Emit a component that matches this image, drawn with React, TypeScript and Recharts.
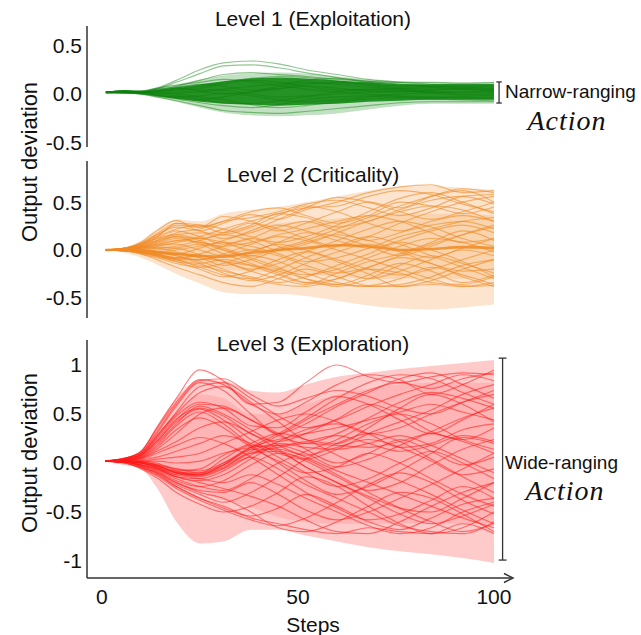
import React from 'react';
import { ComposedChart, Line, Area, XAxis, YAxis, ReferenceLine } from 'recharts';

// ---------- shared x data ----------
const STEPS = [1, 6, 10, 14, 19, 25, 31, 38, 45, 52, 60, 68, 76, 84, 92, 100];
const X_TICKS = [0, 50, 100];
const X_TICK_LABELS = ['0', '50', '100'];

// ---------- Level 1 (green) ----------
const G_ENV_LO = [0.01, 0.0, -0.01, -0.04, -0.08, -0.14, -0.19, -0.22, -0.23, -0.22, -0.2, -0.16, -0.12, -0.1, -0.1, -0.1];
const G_ENV_HI = [0.02, 0.04, 0.03, 0.06, 0.1, 0.15, 0.19, 0.21, 0.22, 0.21, 0.18, 0.15, 0.13, 0.12, 0.12, 0.12];
const G_CORE_LO = [0.015, 0.005, 0.0, -0.02, -0.05, -0.08, -0.1, -0.11, -0.12, -0.11, -0.1, -0.08, -0.07, -0.06, -0.06, -0.06];
const G_CORE_HI = [0.02, 0.035, 0.025, 0.04, 0.07, 0.1, 0.13, 0.16, 0.17, 0.16, 0.14, 0.12, 0.1, 0.1, 0.1, 0.1];
const G_LINES = [
  [0.02, 0.03, 0.03, 0.06, 0.14, 0.25, 0.32, 0.34, 0.31, 0.25, 0.2, 0.15, 0.12, 0.1, 0.09, 0.1],
  [0.02, 0.03, 0.02, 0.05, 0.12, 0.21, 0.29, 0.3, 0.27, 0.22, 0.17, 0.12, 0.1, 0.08, 0.07, 0.06],
  [0.02, 0.02, 0.02, 0.04, 0.08, 0.14, 0.2, 0.22, 0.2, 0.18, 0.15, 0.13, 0.12, 0.12, 0.11, 0.12],
  [0.01, 0.01, 0.0, -0.03, -0.07, -0.12, -0.17, -0.19, -0.2, -0.18, -0.15, -0.12, -0.09, -0.08, -0.08, -0.08],
  [0.02, 0.03, 0.02, 0.03, 0.05, 0.08, 0.12, 0.16, 0.18, 0.17, 0.13, 0.09, 0.06, 0.05, 0.06, 0.05],
  [0.02, 0.02, 0.01, 0.0, -0.02, -0.05, -0.09, -0.1, -0.07, -0.03, 0.0, 0.02, 0.03, 0.02, 0.0, -0.02],
  [0.02, 0.03, 0.03, 0.05, 0.07, 0.1, 0.08, 0.04, 0.06, 0.1, 0.12, 0.1, 0.08, 0.09, 0.1, 0.09],
  [0.01, 0.02, 0.01, 0.01, 0.0, -0.03, -0.06, -0.11, -0.14, -0.12, -0.08, -0.05, -0.04, -0.05, -0.06, -0.07],
  [0.02, 0.03, 0.02, 0.04, 0.06, 0.03, 0.0, 0.02, 0.05, 0.08, 0.06, 0.03, 0.02, 0.04, 0.05, 0.03],
  [0.02, 0.02, 0.01, -0.01, -0.04, -0.06, -0.03, 0.02, 0.08, 0.12, 0.1, 0.07, 0.05, 0.03, 0.02, 0.01],
  [0.02, 0.03, 0.03, 0.06, 0.09, 0.12, 0.15, 0.13, 0.09, 0.05, 0.02, 0.0, -0.02, -0.03, -0.04, -0.05],
  [0.01, 0.01, 0.0, -0.02, -0.03, -0.02, 0.01, -0.02, -0.06, -0.08, -0.06, -0.03, 0.0, 0.01, 0.02, 0.03],
  [0.02, 0.03, 0.02, 0.03, 0.04, 0.06, 0.1, 0.14, 0.12, 0.08, 0.04, 0.04, 0.06, 0.07, 0.08, 0.08],
  [0.01, 0.01, 0.0, -0.02, -0.05, -0.09, -0.12, -0.14, -0.11, -0.06, -0.03, -0.02, -0.03, -0.04, -0.03, -0.04],
  [0.02, 0.02, 0.02, 0.02, 0.02, 0.04, 0.05, 0.08, 0.1, 0.14, 0.16, 0.13, 0.1, 0.07, 0.05, 0.04],
  [0.02, 0.03, 0.02, 0.01, 0.01, 0.02, 0.04, 0.0, -0.03, -0.02, 0.02, 0.05, 0.04, 0.01, -0.01, 0.0],
];
const P1_TICKS = [-0.5, 0, 0.5];
const P1_TICK_LABELS = ['-0.5', '0.0', '0.5'];

// ---------- Level 2 (orange) ----------
const O_ENV_LO = [0, -0.03, -0.08, -0.15, -0.25, -0.35, -0.44, -0.46, -0.46, -0.48, -0.53, -0.58, -0.61, -0.62, -0.6, -0.57];
const O_ENV_HI = [0, 0.03, 0.1, 0.22, 0.32, 0.3, 0.38, 0.42, 0.45, 0.5, 0.56, 0.62, 0.66, 0.67, 0.65, 0.63];
const O_CORE_LO = [0, -0.02, -0.04, -0.08, -0.12, -0.16, -0.2, -0.22, -0.24, -0.26, -0.28, -0.3, -0.3, -0.3, -0.3, -0.3];
const O_CORE_HI = [0, 0.02, 0.06, 0.12, 0.18, 0.18, 0.22, 0.25, 0.28, 0.3, 0.33, 0.36, 0.38, 0.38, 0.38, 0.36];
const O_CENTER = [0, 0.005, 0.0, -0.02, -0.04, -0.06, -0.07, -0.03, 0.0, 0.02, 0.05, 0.04, 0.0, 0.01, 0.03, 0.02];
const O_LINES = [
  [0, 0.02, 0.08, 0.2, 0.31, 0.2, 0.28, 0.37, 0.32, 0.42, 0.5, 0.6, 0.66, 0.68, 0.6, 0.62],
  [0, 0.02, 0.06, 0.15, 0.26, 0.24, 0.35, 0.3, 0.2, 0.28, 0.4, 0.5, 0.44, 0.56, 0.64, 0.6],
  [0, 0.01, 0.04, 0.1, 0.18, 0.22, 0.3, 0.4, 0.44, 0.36, 0.28, 0.36, 0.5, 0.46, 0.38, 0.45],
  [0, -0.01, -0.04, -0.1, -0.18, -0.26, -0.34, -0.38, -0.3, -0.2, -0.28, -0.37, -0.3, -0.18, -0.26, -0.36],
  [0, 0.0, -0.02, -0.06, -0.12, -0.2, -0.28, -0.22, -0.1, -0.02, -0.12, -0.25, -0.38, -0.32, -0.2, -0.1],
  [0, 0.01, 0.03, 0.06, 0.1, 0.08, 0.02, -0.08, -0.18, -0.3, -0.38, -0.3, -0.16, -0.06, -0.14, -0.24],
  [0, 0.02, 0.05, 0.12, 0.2, 0.14, 0.06, 0.12, 0.24, 0.3, 0.2, 0.1, 0.18, 0.3, 0.36, 0.3],
  [0, -0.01, -0.03, -0.05, -0.08, -0.1, -0.04, 0.06, 0.14, 0.1, 0.0, -0.1, -0.2, -0.3, -0.38, -0.37],
  [0, 0.01, 0.02, 0.03, 0.02, -0.05, -0.12, -0.2, -0.14, -0.02, 0.1, 0.22, 0.3, 0.24, 0.12, 0.04],
  [0, 0.0, -0.01, -0.03, -0.06, -0.12, -0.2, -0.3, -0.36, -0.38, -0.3, -0.18, -0.08, -0.14, -0.28, -0.38],
  [0, 0.02, 0.07, 0.16, 0.24, 0.2, 0.12, 0.2, 0.32, 0.44, 0.55, 0.5, 0.4, 0.32, 0.4, 0.5],
  [0, 0.01, 0.02, 0.02, -0.02, -0.08, -0.16, -0.1, 0.0, 0.08, 0.16, 0.1, 0.0, -0.08, 0.02, 0.12],
  [0, 0.0, -0.02, -0.04, -0.04, 0.02, 0.1, 0.18, 0.26, 0.2, 0.1, 0.02, 0.1, 0.2, 0.26, 0.18],
  [0, 0.01, 0.03, 0.08, 0.14, 0.1, 0.0, -0.1, -0.2, -0.26, -0.2, -0.08, 0.04, 0.12, 0.08, -0.02],
  [0, -0.01, -0.04, -0.08, -0.14, -0.18, -0.14, -0.06, -0.12, -0.24, -0.34, -0.38, -0.36, -0.28, -0.16, -0.1],
  [0, 0.02, 0.06, 0.14, 0.22, 0.26, 0.22, 0.14, 0.08, 0.14, 0.26, 0.4, 0.54, 0.6, 0.5, 0.38],
  [0, 0.0, 0.0, -0.02, -0.06, -0.14, -0.24, -0.32, -0.26, -0.14, -0.02, 0.06, -0.02, -0.14, -0.22, -0.2],
  [0, 0.01, 0.04, 0.1, 0.16, 0.18, 0.16, 0.24, 0.36, 0.46, 0.4, 0.28, 0.2, 0.26, 0.3, 0.22],
  [0, 0.0, -0.02, -0.06, -0.1, -0.1, -0.06, 0.0, -0.06, -0.16, -0.24, -0.18, -0.06, 0.06, 0.16, 0.24],
  [0, 0.01, 0.03, 0.05, 0.06, 0.0, -0.06, -0.02, 0.06, 0.0, -0.1, -0.2, -0.26, -0.2, -0.1, 0.0],
  [0, 0.02, 0.06, 0.12, 0.16, 0.12, 0.18, 0.28, 0.22, 0.12, 0.04, 0.14, 0.28, 0.4, 0.5, 0.56],
  [0, -0.01, -0.03, -0.07, -0.12, -0.16, -0.22, -0.28, -0.34, -0.28, -0.16, -0.04, 0.08, 0.0, -0.12, -0.28],
  [0, 0.01, 0.02, 0.04, 0.08, 0.14, 0.22, 0.3, 0.38, 0.44, 0.46, 0.56, 0.62, 0.58, 0.48, 0.4],
  [0, 0.0, -0.01, -0.02, -0.04, -0.08, -0.12, -0.16, -0.22, -0.3, -0.36, -0.38, -0.38, -0.36, -0.38, -0.34],
  [0, 0.01, 0.03, 0.07, 0.12, 0.08, 0.04, 0.08, 0.16, 0.22, 0.3, 0.36, 0.3, 0.18, 0.08, 0.12],
  [0, 0.0, -0.01, -0.02, 0.0, 0.04, 0.08, 0.04, -0.04, -0.12, -0.08, 0.02, 0.14, 0.22, 0.3, 0.34],
  [0, 0.01, 0.05, 0.13, 0.28, 0.26, 0.18, 0.26, 0.38, 0.34, 0.24, 0.3, 0.42, 0.52, 0.56, 0.48],
  [0, -0.01, -0.02, -0.04, -0.08, -0.04, 0.04, 0.12, 0.04, -0.08, -0.2, -0.3, -0.22, -0.1, 0.0, -0.06],
  [0, 0.0, 0.01, 0.02, 0.04, 0.1, 0.16, 0.1, 0.0, 0.06, 0.18, 0.3, 0.4, 0.46, 0.42, 0.3],
  [0, -0.01, -0.03, -0.06, -0.1, -0.18, -0.26, -0.3, -0.2, -0.08, 0.04, 0.14, 0.06, -0.06, -0.18, -0.3],
  [0, 0.01, 0.04, 0.09, 0.14, 0.06, -0.04, -0.14, -0.24, -0.34, -0.36, -0.26, -0.14, -0.22, -0.34, -0.26],
  [0, 0.02, 0.07, 0.17, 0.28, 0.24, 0.3, 0.34, 0.4, 0.48, 0.52, 0.44, 0.36, 0.44, 0.56, 0.58],
  [0, 0.0, -0.01, -0.04, -0.1, -0.14, -0.1, -0.16, -0.26, -0.34, -0.3, -0.2, -0.24, -0.34, -0.36, -0.28],
  [0, 0.01, 0.02, 0.05, 0.1, 0.12, 0.08, 0.0, 0.08, 0.18, 0.14, 0.04, -0.06, 0.04, 0.16, 0.26],
  [0, 0.0, 0.0, 0.0, 0.02, 0.06, 0.0, -0.06, 0.02, 0.1, 0.22, 0.34, 0.46, 0.56, 0.62, 0.5],
  [0, -0.01, -0.02, -0.05, -0.09, -0.06, -0.12, -0.22, -0.3, -0.36, -0.24, -0.12, -0.04, 0.08, 0.2, 0.1],
];
const P2_TICKS = [-0.5, 0, 0.5];
const P2_TICK_LABELS = ['-0.5', '0.0', '0.5'];

// ---------- Level 3 (red) ----------
const R_ENV_LO = [0.01, -0.02, -0.06, -0.25, -0.6, -0.82, -0.8, -0.68, -0.68, -0.74, -0.8, -0.86, -0.9, -0.93, -0.97, -1.02];
const R_ENV_HI = [0.03, 0.06, 0.12, 0.38, 0.66, 0.85, 0.84, 0.74, 0.72, 0.8, 0.88, 0.92, 0.96, 0.99, 1.02, 1.05];
const R_CORE_LO = [0.01, -0.02, -0.05, -0.1, -0.2, -0.3, -0.38, -0.45, -0.55, -0.6, -0.62, -0.62, -0.62, -0.62, -0.62, -0.62];
const R_CORE_HI = [0.03, 0.05, 0.1, 0.28, 0.52, 0.7, 0.66, 0.5, 0.5, 0.6, 0.7, 0.76, 0.8, 0.82, 0.82, 0.82];
const R_LINES = [
  [0.02, 0.05, 0.12, 0.35, 0.62, 0.85, 0.8, 0.6, 0.5, 0.62, 0.8, 0.9, 0.85, 0.7, 0.8, 0.95],
  [0.02, 0.04, 0.1, 0.3, 0.58, 0.82, 0.74, 0.5, 0.3, 0.4, 0.58, 0.72, 0.86, 0.92, 0.8, 0.66],
  [0.02, 0.05, 0.1, 0.28, 0.5, 0.72, 0.78, 0.62, 0.42, 0.24, 0.2, 0.36, 0.56, 0.7, 0.6, 0.42],
  [0.02, 0.04, 0.08, 0.24, 0.45, 0.56, 0.48, 0.3, 0.22, 0.3, 0.45, 0.6, 0.5, 0.32, 0.24, 0.36],
  [0.02, 0.04, 0.08, 0.22, 0.42, 0.55, 0.44, 0.24, 0.1, 0.04, 0.14, 0.3, 0.42, 0.54, 0.7, 0.8],
  [0.02, 0.03, 0.06, 0.18, 0.38, 0.52, 0.4, 0.18, 0.0, -0.18, -0.32, -0.24, -0.08, 0.1, 0.26, 0.2],
  [0.02, 0.03, 0.05, 0.14, 0.3, 0.5, 0.56, 0.44, 0.28, 0.2, 0.3, 0.46, 0.62, 0.72, 0.66, 0.56],
  [0.02, 0.03, 0.05, 0.12, 0.22, 0.36, 0.42, 0.3, 0.14, -0.04, -0.2, -0.34, -0.46, -0.5, -0.36, -0.2],
  [0.02, 0.02, 0.02, 0.0, -0.08, -0.12, -0.04, 0.1, 0.16, 0.2, 0.18, 0.16, 0.22, 0.3, 0.22, 0.1],
  [0.02, 0.02, 0.01, -0.02, -0.1, -0.13, -0.05, 0.12, 0.2, 0.16, 0.14, 0.2, 0.28, 0.18, 0.04, -0.1],
  [0.02, 0.02, 0.0, -0.04, -0.12, -0.12, -0.02, 0.14, 0.14, 0.08, 0.16, 0.24, 0.16, 0.02, -0.12, -0.06],
  [0.02, 0.01, 0.0, -0.05, -0.14, -0.16, -0.08, 0.08, 0.22, 0.34, 0.4, 0.3, 0.16, 0.2, 0.34, 0.4],
  [0.02, 0.01, -0.02, -0.08, -0.18, -0.24, -0.18, -0.02, 0.1, 0.04, -0.12, -0.3, -0.46, -0.6, -0.7, -0.62],
  [0.02, 0.01, -0.03, -0.1, -0.22, -0.32, -0.4, -0.3, -0.14, 0.04, 0.2, 0.3, 0.22, 0.04, -0.14, -0.3],
  [0.02, 0.0, -0.05, -0.13, -0.26, -0.38, -0.48, -0.58, -0.64, -0.56, -0.4, -0.22, -0.1, -0.2, -0.38, -0.52],
  [0.02, 0.0, -0.06, -0.15, -0.3, -0.42, -0.5, -0.44, -0.3, -0.14, -0.24, -0.44, -0.62, -0.72, -0.66, -0.5],
  [0.02, 0.01, -0.04, -0.1, -0.2, -0.3, -0.36, -0.5, -0.66, -0.7, -0.6, -0.44, -0.3, -0.36, -0.52, -0.7],
  [0.02, 0.01, -0.02, -0.06, -0.14, -0.2, -0.26, -0.34, -0.44, -0.58, -0.7, -0.72, -0.6, -0.44, -0.3, -0.2],
  [0.02, 0.02, 0.01, -0.02, -0.06, -0.08, 0.0, 0.14, 0.28, 0.44, 0.6, 0.74, 0.82, 0.76, 0.86, 0.92],
  [0.02, 0.02, 0.0, -0.03, -0.1, -0.12, -0.02, 0.16, 0.3, 0.46, 0.66, 0.82, 0.9, 0.86, 0.72, 0.6],
  [0.02, 0.03, 0.06, 0.16, 0.34, 0.46, 0.36, 0.16, 0.02, -0.1, -0.04, 0.1, 0.0, -0.16, -0.32, -0.44],
  [0.02, 0.02, 0.01, -0.01, -0.06, -0.1, -0.02, 0.1, 0.12, 0.02, -0.14, -0.28, -0.2, -0.02, 0.14, 0.24],
  [0.02, 0.02, 0.03, 0.06, 0.12, 0.2, 0.28, 0.2, 0.06, -0.1, -0.24, -0.16, 0.0, 0.12, 0.0, -0.16],
  [0.02, 0.01, -0.02, -0.07, -0.16, -0.24, -0.28, -0.16, 0.0, 0.12, 0.24, 0.4, 0.5, 0.4, 0.24, 0.14],
  [0.02, 0.02, 0.0, -0.04, -0.1, -0.1, 0.04, 0.18, 0.12, -0.04, -0.2, -0.36, -0.52, -0.62, -0.54, -0.42],
  [0.02, 0.04, 0.09, 0.26, 0.48, 0.62, 0.56, 0.38, 0.36, 0.52, 0.68, 0.6, 0.44, 0.3, 0.44, 0.6],
  [0.02, 0.01, -0.03, -0.09, -0.2, -0.28, -0.3, -0.2, -0.32, -0.48, -0.58, -0.5, -0.36, -0.22, -0.06, 0.1],
  [0.02, 0.02, 0.0, -0.03, -0.08, -0.06, 0.08, 0.2, 0.3, 0.24, 0.08, -0.06, -0.18, -0.32, -0.48, -0.62],
  [0.02, 0.05, 0.11, 0.32, 0.6, 0.84, 0.86, 0.7, 0.58, 0.66, 0.74, 0.68, 0.56, 0.5, 0.62, 0.74],
  [0.02, 0.0, -0.05, -0.12, -0.24, -0.36, -0.44, -0.56, -0.62, -0.68, -0.72, -0.66, -0.7, -0.72, -0.62, -0.72],
  [0.02, 0.05, 0.12, 0.36, 0.66, 0.95, 0.84, 0.6, 0.62, 0.82, 1.0, 0.88, 0.82, 0.88, 0.92, 0.9],
  [0.02, 0.02, 0.02, 0.02, 0.0, 0.02, 0.1, 0.16, 0.18, 0.22, 0.28, 0.2, 0.12, 0.18, 0.28, 0.22],
  [0.02, 0.04, 0.09, 0.27, 0.52, 0.78, 0.82, 0.66, 0.48, 0.36, 0.44, 0.58, 0.7, 0.8, 0.9, 0.84],
  [0.02, 0.03, 0.07, 0.2, 0.4, 0.58, 0.5, 0.34, 0.18, 0.06, -0.08, -0.2, -0.32, -0.44, -0.56, -0.66],
  [0.02, 0.02, 0.01, -0.02, -0.09, -0.11, 0.0, 0.16, 0.24, 0.3, 0.36, 0.44, 0.52, 0.6, 0.52, 0.44],
  [0.02, 0.01, -0.02, -0.06, -0.14, -0.18, -0.12, 0.04, 0.18, 0.1, -0.04, 0.04, 0.18, 0.32, 0.46, 0.56],
  [0.02, 0.01, -0.04, -0.11, -0.24, -0.36, -0.46, -0.54, -0.46, -0.32, -0.44, -0.6, -0.68, -0.56, -0.42, -0.36],
  [0.02, 0.02, 0.0, -0.03, -0.1, -0.14, -0.06, 0.06, -0.06, -0.22, -0.36, -0.5, -0.64, -0.7, -0.72, -0.6],
  [0.02, 0.04, 0.08, 0.22, 0.44, 0.6, 0.58, 0.44, 0.3, 0.14, 0.0, 0.1, 0.24, 0.12, -0.02, 0.06],
  [0.02, 0.03, 0.04, 0.1, 0.18, 0.26, 0.2, 0.06, -0.12, -0.3, -0.46, -0.58, -0.52, -0.38, -0.24, -0.36],
  [0.02, 0.02, 0.02, 0.04, 0.06, 0.1, 0.2, 0.32, 0.44, 0.5, 0.42, 0.3, 0.36, 0.5, 0.62, 0.7],
  [0.02, 0.01, -0.01, -0.05, -0.12, -0.16, -0.2, -0.12, -0.22, -0.36, -0.5, -0.64, -0.72, -0.66, -0.5, -0.4],
];
const P3_TICKS = [-1, -0.5, 0, 0.5, 1];
const P3_TICK_LABELS = ['-1', '-0.5', '0.0', '0.5', '1'];

const FONT = '"Liberation Sans", Arial, Helvetica, sans-serif';
const SERIF = '"Liberation Serif", "Times New Roman", serif';
const AXIS_COLOR = '#333';
const X_DOMAIN: [number, number] = [-3.8, 104.6];

function buildRows(envLo: number[], envHi: number[], coreLo: number[], coreHi: number[], lines: number[][], center?: number[]) {
  return STEPS.map((s, i) => {
    const r: any = { step: s, env: [envLo[i], envHi[i]], core: [coreLo[i], coreHi[i]] };
    lines.forEach((l, j) => { r['l' + j] = l[i]; });
    if (center) r.center = center[i];
    return r;
  });
}

const G_DATA = buildRows(G_ENV_LO, G_ENV_HI, G_CORE_LO, G_CORE_HI, G_LINES);
const O_DATA = buildRows(O_ENV_LO, O_ENV_HI, O_CORE_LO, O_CORE_HI, O_LINES, O_CENTER);
const R_DATA = buildRows(R_ENV_LO, R_ENV_HI, R_CORE_LO, R_CORE_HI, R_LINES);

type PanelProps = {
  data: any[];
  nLines: number;
  lineColor: string;
  lineOpacity: number;
  coreColor: string;
  coreOpacity: number;
  envColor: string;
  domain: [number, number];
  ticks: number[];
  tickLabels: string[];
  top: number;
  bottom: number;
  showXTicks: boolean;
  bracket?: { x: number; y1: number; y2: number; cap: number };
  hasCenter?: boolean;
};

function Panel(p: PanelProps) {
  const W = 641;
  const H = 635;
  const xAxisH = p.showXTicks ? 30 : 0;
  const margin = { top: p.top, right: W - 512, left: 0, bottom: H - p.bottom - xAxisH };
  const lines = [];
  for (let i = 0; i < p.nLines; i++) {
    lines.push(
      <Line key={'l' + i} dataKey={'l' + i} type="monotone" stroke={p.lineColor} strokeOpacity={p.lineOpacity}
        strokeWidth={1.15} dot={false} activeDot={false} isAnimationActive={false} />
    );
  }
  return (
    <div style={{ position: 'absolute', left: 0, top: 0 }}>
      <ComposedChart width={W} height={H} data={p.data} margin={margin}>
        <XAxis dataKey="step" type="number" domain={X_DOMAIN} allowDataOverflow
          ticks={p.showXTicks ? X_TICKS : []} tick={p.showXTicks ? { fontSize: 21, fill: '#111', fontFamily: FONT } : false}
          tickFormatter={(v: number) => X_TICK_LABELS[X_TICKS.indexOf(v)] ?? String(v)}
          tickLine={false} tickSize={0} tickMargin={11} height={xAxisH}
          axisLine={{ stroke: AXIS_COLOR, strokeWidth: 1.5 }} />
        <YAxis type="number" domain={p.domain} allowDataOverflow ticks={p.ticks} width={87}
          tick={{ fontSize: 21, fill: '#111', fontFamily: FONT }}
          tickFormatter={(v: number) => p.tickLabels[p.ticks.indexOf(v)] ?? String(v)}
          tickLine={false} tickSize={0} tickMargin={5}
          axisLine={{ stroke: AXIS_COLOR, strokeWidth: 1.5 }} />
        <Area dataKey="env" type="monotone" stroke="none" fill={p.envColor} fillOpacity={1} isAnimationActive={false} activeDot={false} />
        <Area dataKey="core" type="monotone" stroke="none" fill={p.coreColor} fillOpacity={p.coreOpacity} isAnimationActive={false} activeDot={false} />
        {lines}
        {p.hasCenter ? (
          <Line dataKey="center" type="monotone" stroke={p.lineColor} strokeOpacity={0.85} strokeWidth={2.6}
            dot={false} activeDot={false} isAnimationActive={false} />
        ) : null}
        {p.bracket ? (
          <ReferenceLine segment={[{ x: p.bracket.x, y: p.bracket.y1 }, { x: p.bracket.x, y: p.bracket.y2 }]} stroke="#333" strokeWidth={1.3} />
        ) : null}
        {p.bracket ? (
          <ReferenceLine segment={[{ x: p.bracket.x - p.bracket.cap, y: p.bracket.y1 }, { x: p.bracket.x + p.bracket.cap, y: p.bracket.y1 }]} stroke="#333" strokeWidth={1.3} />
        ) : null}
        {p.bracket ? (
          <ReferenceLine segment={[{ x: p.bracket.x - p.bracket.cap, y: p.bracket.y2 }, { x: p.bracket.x + p.bracket.cap, y: p.bracket.y2 }]} stroke="#333" strokeWidth={1.3} />
        ) : null}
      </ComposedChart>
    </div>
  );
}

export default function App() {
  return (
    <div style={{ position: 'absolute', left: 0, top: 0, width: 641, height: 635, background: '#fff', overflow: 'hidden' }}>
      <Panel data={G_DATA} nLines={G_LINES.length} lineColor="#0E800E" lineOpacity={0.45} coreColor="#148A14" coreOpacity={0.9}
        envColor="#C2E0C2" domain={[-0.546, 0.7]} ticks={P1_TICKS} tickLabels={P1_TICK_LABELS} top={26} bottom={147}
        showXTicks={false} bracket={{ x: 101.3, y1: 0.124, y2: -0.093, cap: 0.7 }} />
      <Panel data={O_DATA} nLines={O_LINES.length} lineColor="#F08A24" lineOpacity={0.6} coreColor="#F39A3C" coreOpacity={0.22}
        envColor="#FCE4CF" domain={[-0.71, 0.93]} ticks={P2_TICKS} tickLabels={P2_TICK_LABELS} top={161} bottom={318}
        showXTicks={false} hasCenter />
      <Panel data={R_DATA} nLines={R_LINES.length} lineColor="#FF1A1A" lineOpacity={0.55} coreColor="#FF3A3A" coreOpacity={0.14}
        envColor="#FFCACA" domain={[-1.173, 1.255]} ticks={P3_TICKS} tickLabels={P3_TICK_LABELS} top={340} bottom={578}
        showXTicks={true} bracket={{ x: 102.2, y1: 1.07, y2: -0.99, cap: 1.0 }} />
      <svg width={641} height={635} style={{ position: 'absolute', left: 0, top: 0, pointerEvents: 'none' }}>
        <g fontFamily={FONT} fill="#111">
          <text x={313} y={26} fontSize={21} textAnchor="middle">Level 1 (Exploitation)</text>
          <text x={313} y={182} fontSize={21} textAnchor="middle">Level 2 (Criticality)</text>
          <text x={313} y={351} fontSize={21} textAnchor="middle">Level 3 (Exploration)</text>
          <text transform="translate(29,162) rotate(-90)" fontSize={22} textAnchor="middle" dominantBaseline="central">Output deviation</text>
          <text transform="translate(29,453) rotate(-90)" fontSize={22} textAnchor="middle" dominantBaseline="central">Output deviation</text>
          <text x={505} y={98} fontSize={19}>Narrow-ranging</text>
          <text x={505} y={469} fontSize={19}>Wide-ranging</text>
          <text x={313} y={632} fontSize={21} textAnchor="middle">Steps</text>
        </g>
        <g fontFamily={SERIF} fontStyle="italic" fill="#111">
          <text x={567} y={130} fontSize={28} letterSpacing={1} textAnchor="middle">Action</text>
          <text x={565} y={500} fontSize={28} letterSpacing={1} textAnchor="middle">Action</text>
        </g>
        <polyline points="504,573.5 513,578 504,582.5" fill="none" stroke={AXIS_COLOR} strokeWidth={1.5} />
      </svg>
    </div>
  );
}
